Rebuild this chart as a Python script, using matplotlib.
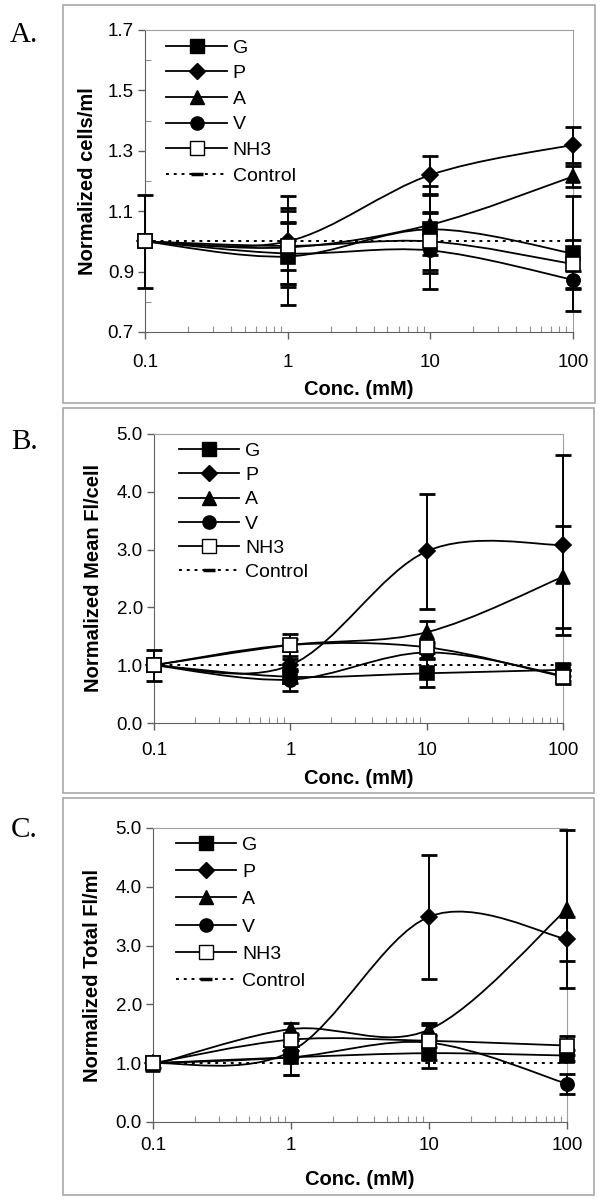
import numpy as np
import matplotlib
matplotlib.use("Agg")
import matplotlib.pyplot as plt
from matplotlib.path import Path
from matplotlib.patches import PathPatch, Rectangle
from matplotlib.lines import Line2D
from matplotlib.ticker import FixedLocator, MultipleLocator, FormatStrFormatter, LogLocator, NullFormatter

plt.rcParams['font.family'] = ['Liberation Sans', 'DejaVu Sans']

# --- data ---
conc = [0.1, 1, 10, 100]
conc_labels = ['0.1', '1', '10', '100']
names = ['G', 'P', 'A', 'V', 'NH3']

# A. normalized cells/ml
cells = {
    'G':   [1.00, 0.95, 1.04, 0.96],
    'P':   [1.00, 1.00, 1.22, 1.32],
    'A':   [1.00, 0.98, 1.055, 1.215],
    'V':   [1.00, 0.96, 0.97, 0.873],
    'NH3': [1.00, 0.985, 1.00, 0.925],
}
cells_err = {
    'G':   [0.00, 0.16, 0.145, 0.19],
    'P':   [0.155, 0.15, 0.063, 0.06],
    'A':   [0.00, 0.12, 0.10, 0.035],
    'V':   [0.00, 0.10, 0.128, 0.03],
    'NH3': [0.00, 0.08, 0.094, 0.08],
}
cells_ticks = [0.7, 0.9, 1.1, 1.3, 1.5, 1.7]

# B. normalized mean FI/cell
mean_fi = {
    'G':   [1.00, 0.80, 0.86, 0.92],
    'P':   [1.00, 1.00, 2.97, 3.08],
    'A':   [1.00, 1.35, 1.57, 2.53],
    'V':   [1.00, 0.75, 1.22, 0.82],
    'NH3': [1.00, 1.35, 1.31, 0.80],
}
mean_fi_err = {
    'G':   [0.00, 0.10, 0.24, 0.10],
    'P':   [0.27, 0.10, 1.00, 1.55],
    'A':   [0.00, 0.10, 0.20, 0.88],
    'V':   [0.00, 0.19, 0.10, 0.10],
    'NH3': [0.00, 0.19, 0.10, 0.12],
}

# C. normalized total FI/ml
total_fi = {
    'G':   [1.00, 1.10, 1.17, 1.13],
    'P':   [1.00, 1.20, 3.49, 3.11],
    'A':   [0.97, 1.58, 1.57, 3.62],
    'V':   [1.00, 1.10, 1.35, 0.65],
    'NH3': [1.00, 1.40, 1.38, 1.30],
}
total_fi_err = {
    'G':   [0.00, 0.30, 0.25, 0.10],
    'P':   [0.00, 0.10, 1.05, 0.37],
    'A':   [0.05, 0.10, 0.11, 1.34],
    'V':   [0.00, 0.30, 0.30, 0.17],
    'NH3': [0.00, 0.10, 0.10, 0.16],
}
fi_ticks = [0.0, 1.0, 2.0, 3.0, 4.0, 5.0]
control = [1.0, 1.0, 1.0, 1.0]

markers = {'G': ('s', 'black', 9.5), 'P': ('D', 'black', 8.5), 'A': ('^', 'black', 10.5),
           'V': ('o', 'black', 9.5), 'NH3': ('s', 'white', 9.5)}
DOT = (0, (1.5, 2.5))


def smooth_path(xs, ys):
    # Excel-like smoothed line: Catmull-Rom -> cubic Bezier in (log x, y)
    pts = np.column_stack([np.log10(xs), np.asarray(ys, float)])
    ext = np.vstack([pts[0], pts, pts[-1]])
    verts = [pts[0]]
    codes = [Path.MOVETO]
    for i in range(len(pts) - 1):
        p0, p1, p2, p3 = ext[i], ext[i + 1], ext[i + 2], ext[i + 3]
        verts += [p1 + (p2 - p0) / 6, p2 - (p3 - p1) / 6, p2]
        codes += [Path.CURVE4] * 3
    verts = np.array(verts)
    verts[:, 0] = 10 ** verts[:, 0]
    return Path(verts, codes)


def draw_panel(fig, rect, vals, errs, yticks, yminor, ylabel, leg_anchor, leg_space,
               xpad, xlabpad, ylabpad):
    ax = fig.add_axes(rect)
    ax.set_xscale('log')
    ax.set_xlim(conc[0], conc[-1])
    ax.set_ylim(yticks[0], yticks[-1])

    ax.plot(conc, control, linestyle=DOT, color='black', lw=1.4, zorder=2)
    for n in names:
        m, fc, ms = markers[n]
        ax.add_patch(PathPatch(smooth_path(conc, vals[n]), fill=False, ec='black', lw=1.3, zorder=3))
        e = np.array(errs[n])
        keep = e > 0
        if keep.any():
            eb = ax.errorbar(np.array(conc)[keep], np.array(vals[n])[keep], yerr=e[keep], fmt='none',
                             ecolor='black', elinewidth=1.4, capsize=6, capthick=2, zorder=3)
            for art in eb.lines[1] + eb.lines[2]:
                art.set_clip_on(False)
        ax.plot(conc, vals[n], linestyle='none', marker=m, ms=ms, mfc=fc, mec='black', mew=1.2,
                zorder=4, clip_on=False)

    ax.xaxis.set_major_locator(FixedLocator(conc))
    ax.set_xticklabels(conc_labels)
    ax.xaxis.set_minor_locator(LogLocator(base=10, subs=np.arange(2, 10)))
    ax.xaxis.set_minor_formatter(NullFormatter())
    ax.yaxis.set_major_locator(FixedLocator(yticks))
    ax.yaxis.set_major_formatter(FormatStrFormatter('%.1f'))
    if yminor:
        ax.yaxis.set_minor_locator(MultipleLocator(yminor))
    ax.tick_params(which='major', direction='out', length=5, width=1, color='#606060', labelsize=13.5)
    ax.tick_params(axis='x', which='major', pad=xpad)
    ax.tick_params(axis='y', which='major', pad=3)
    ax.tick_params(which='minor', direction='in', length=4, width=0.8, color='#909090')
    for s in ['left', 'bottom']:
        ax.spines[s].set_color('#606060')
    for s in ['top', 'right']:
        ax.spines[s].set_color('#a0a0a0')

    ax.set_ylabel(ylabel, fontsize=14.5, fontweight='bold', labelpad=ylabpad)
    ax.set_xlabel('Conc. (mM)', fontsize=14.5, fontweight='bold', labelpad=xlabpad)

    handles = []
    for n in names:
        m, fc, ms = markers[n]
        handles.append(Line2D([], [], color='black', lw=1.3, marker=m, ms=ms, mfc=fc, mec='black'))
    handles.append(Line2D([], [], color='black', lw=1.4, linestyle=DOT, marker='_', ms=8, mew=2.5))
    ax.legend(handles, names + ['Control'], loc='upper left', bbox_to_anchor=leg_anchor,
              frameon=False, fontsize=14, handlelength=3.1, handletextpad=0.3,
              labelspacing=leg_space, borderaxespad=0, borderpad=0)
    return ax


fig = plt.figure(figsize=(6.02, 12), dpi=100)

# grey frames around each panel (pixel boxes converted to figure fraction)
for (x0, y0, x1, y1) in [(63, 5, 595, 403), (63, 408, 594, 793), (63, 798, 594, 1195)]:
    fig.add_artist(Rectangle((x0 / 602, 1 - y1 / 1200), (x1 - x0) / 602, (y1 - y0) / 1200,
                             transform=fig.transFigure, fill=False, ec='#a8a8a8', lw=1.2))

draw_panel(fig, [145 / 602, 1 - 332 / 1200, 428 / 602, 302 / 1200], cells, cells_err,
           cells_ticks, 0.1, 'Normalized cells/ml', (0.05, 0.97), 0.41,
           xpad=11, xlabpad=6, ylabpad=8)
draw_panel(fig, [154 / 602, 1 - 723 / 1200, 409 / 602, 289 / 1200], mean_fi, mean_fi_err,
           fi_ticks, None, 'Normalized Mean Fl/cell', (0.061, 0.972), 0.345,
           xpad=9, xlabpad=7, ylabpad=10)
draw_panel(fig, [153 / 602, 1 - 1122 / 1200, 414 / 602, 294 / 1200], total_fi, total_fi_err,
           fi_ticks, None, 'Normalized Total Fl/ml', (0.056, 0.973), 0.50,
           xpad=6, xlabpad=11, ylabpad=10)

for lab, ypix in [('A.', 35), ('B.', 442), ('C.', 830)]:
    fig.text(24 / 602, 1 - ypix / 1200, lab, ha='center', va='center', fontsize=21,
             family=['Liberation Serif', 'DejaVu Serif'])

fig.savefig('out.png', dpi=100)
